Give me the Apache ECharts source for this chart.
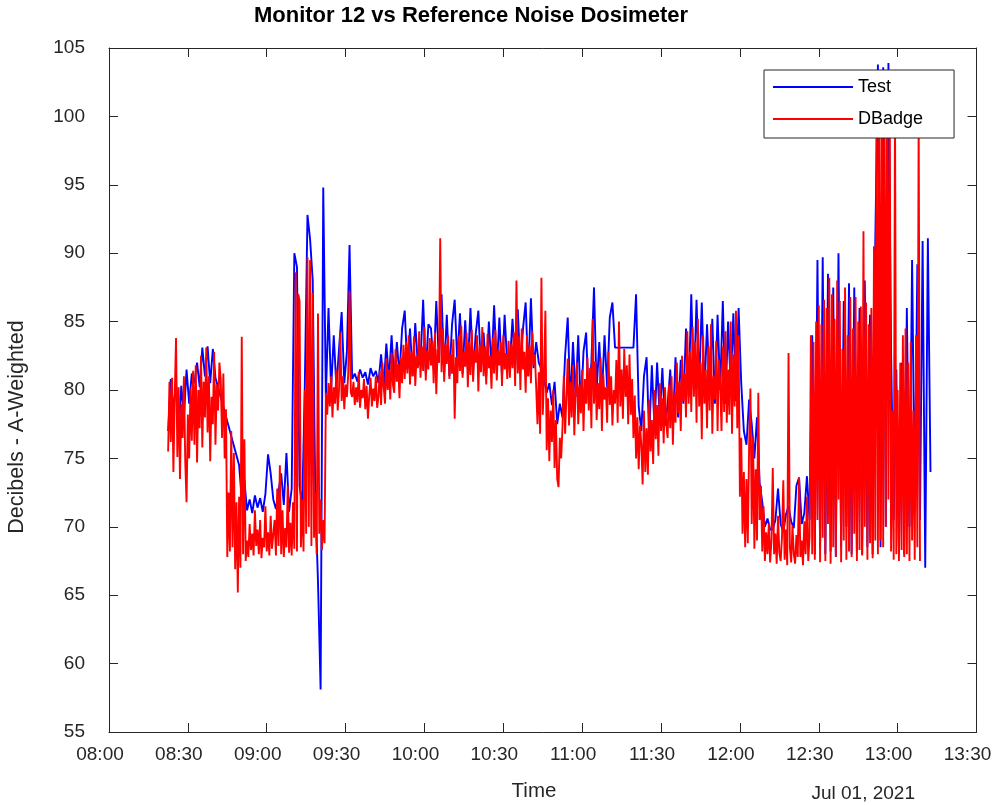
<!DOCTYPE html>
<html>
<head>
<meta charset="utf-8">
<script src="https://cdn.jsdelivr.net/npm/echarts@6/dist/echarts.min.js"></script>
<style>
html,body{margin:0;padding:0;background:#fff;}
#chart{width:995px;height:805px;}
</style>
</head>
<body>
<div id="chart"></div>
<script>
// ---------------- data ----------------
const chartTitle = 'Monitor 12 vs Reference Noise Dosimeter';
const yAxisTitle = 'Decibels - A-Weighted';
const xAxisTitle = 'Time';
const dateLabel = 'Jul 01, 2021';
const seriesNames = ['Test', 'DBadge'];
const xTickLabels = ['08:00','08:30','09:00','09:30','10:00','10:30','11:00','11:30','12:00','12:30','13:00','13:30'];
const yTickLabels = ['55','60','65','70','75','80','85','90','95','100','105'];

// Test monitor: one sample per minute starting 08:22:30 (null = missing sample)
const testStart = '08:22:30';
const testStepSeconds = 60;
const testValues = [
  77.0, 80.8, 78.5, 80.5, 77.0, 80.3, 78.0, 81.5, 79.0, 81.2,
  80.5, 82.0, 80.2, 83.1, 81.0, 83.2, 80.5, 83.0, 80.9, null,
  null, null, null, null, null, null, null, 74.5, 72.0, 73.4,
  71.2, 72.0, 71.0, 72.3, 71.4, 72.1, 71.1, 72.4, 75.3, 73.9,
  72.0, 71.3, 72.6, 73.9, 71.6, 75.4, 71.1, 72.8, 90.0, 89.0,
  73.0, 71.5, 80.5, 92.8, 91.0, 88.0, 72.0, 66.0, 58.1, 94.8,
  79.5, 86.0, 80.0, 84.0, 80.2, 83.0, 85.7, 80.5, 82.8, 90.6,
  80.8, 81.2, 80.6, 81.5, 80.9, 81.3, 80.4, 81.6, 81.0, 81.4,
  80.5, 82.6, 80.2, 83.4, 80.8, 84.0, 80.6, 83.5, 81.0, 84.5,
  85.8, 81.5, 84.5, 81.0, 84.9, 81.8, 82.0, 86.6, 81.2, 84.8,
  84.5, 81.5, 86.5, 82.0, 87.0, 81.2, 85.5, 81.0, 84.8, 86.6,
  82.0, 85.6, 81.2, 85.1, 81.5, 86.0, 81.4, 84.1, 85.8, 81.6,
  84.2, 81.0, 85.0, 81.6, 86.2, 81.4, 85.3, 81.0, 85.5, 81.8,
  82.0, 85.2, 81.5, 85.9, 81.4, 84.5, 86.4, 81.0, 86.7, 81.6,
  83.5, 82.0, 81.5, 80.8, 79.8, 80.5, 78.9, 80.6, 77.5, 79.0,
  78.0, 82.5, 85.3, 79.0, 83.5, 79.5, 84.0, 78.5, 82.8, 84.2,
  79.0, 82.0, 87.5, 80.0, 83.5, 79.5, 84.0, 80.2, 85.3, 86.4,
  83.1, null, null, null, null, null, null, 83.1, 87.0, 78.8,
  77.0, 81.0, 82.4, 76.5, 81.8, 77.2, 82.0, 78.0, 81.6, 77.4,
  78.9, 81.5, 77.2, 82.4, 78.0, 82.2, 79.0, 84.5, 79.5, 87.0,
  80.0, 86.6, 80.4, 86.4, 79.8, 84.8, 80.2, 85.2, 79.0, 85.5,
  80.0, 86.5, 79.0, 85.0, 80.2, 85.6, 79.2, 86.0, 80.5, 77.0,
  76.0, 79.3, 77.5, 75.0, 78.0, 73.2, 71.8, 70.0, 70.6, 69.8,
  69.8, 70.5, 72.8, 70.2, 69.6, 70.9, 71.5, 70.4, 69.9, 73.0,
  73.6, 70.2, 71.0, 73.7, 70.5, 84.0, 68.0, 89.5, 68.5, 89.7,
  68.0, 88.5, 68.2, 87.5, 67.8, 90.0, 68.5, 86.5, 70.0, 87.8,
  68.0, 87.5, 68.2, 86.0, 68.0, 88.0, 68.5, 85.5, 68.0, 90.8,
  103.8, 68.5, 103.6, 70.0, 103.9, 82.9, 70.5, 81.5, 68.0, 82.0,
  68.0, 86.0, 70.0, 89.5, 72.0, 89.2, 70.5, 90.9, 67.0, 91.1, 74.0
];

// DBadge reference dosimeter: one sample every 30 s starting 08:22:30
const dbadgeStart = '08:22:30';
const dbadgeStepSeconds = 30;
const dbadgeValues = [
  75.5, 80.6, 76.2, 80.9, 74.0, 79.5, 83.8, 75.1, 80.2, 73.5, 79.0, 76.5, 81.0, 74.8, 71.8, 78.2, 75.0, 80.1, 76.3, 81.4,
  76.0, 81.8, 74.7, 80.0, 77.2, 82.5, 75.8, 80.6, 78.0, 83.1, 76.9, 81.0, 74.8, 79.5, 77.5, 82.8, 76.0, 80.4, 78.5, 82.0,
  80.8, 76.5, 81.2, 75.0, 78.6, 67.8, 72.5, 68.2, 77.0, 68.5, 75.4, 66.9, 71.8, 65.2, 72.2, 67.0, 83.9, 68.0, 76.4, 67.5,
  69.0, 67.8, 70.2, 68.3, 69.5, 67.9, 71.2, 68.6, 69.8, 68.0, 70.5, 67.7, 69.2, 68.5, 71.5, 68.2, 69.6, 67.9, 70.8, 68.4,
  68.3, 70.5, 67.9, 72.8, 68.6, 74.5, 68.0, 71.2, 67.8, 69.9, 68.5, 73.0, 68.1, 70.3, 67.9, 71.8, 68.4, 88.6, 68.2, 87.0,
  86.5, 68.5, 72.0, 68.2, 80.0, 69.5, 89.7, 70.0, 89.5, 68.6, 87.1, 69.2, 72.5, 68.0, 85.6, 69.5, 72.0, 68.3, 70.5, 68.8,
  79.8, 78.2, 80.5, 78.8, 81.0, 78.0, 80.2, 79.0, 81.5, 78.5, 80.0, 84.2, 79.2, 81.0, 78.6, 80.4, 79.5, 81.2, 87.2, 79.8,
  79.5, 80.6, 78.9, 80.2, 79.1, 81.3, 78.7, 80.0, 79.4, 80.8, 78.6, 80.3, 77.9, 79.6, 80.9, 78.8, 80.1, 79.2, 81.0, 78.7,
  79.5, 81.4, 78.9, 82.0, 80.2, 79.0, 82.3, 80.0, 81.5, 79.3, 82.7, 80.4, 79.8, 83.0, 80.6, 81.9, 79.4, 82.4, 80.5, 83.3,
  80.8, 83.5, 81.2, 84.0, 80.4, 82.8, 81.0, 83.9, 80.3, 82.5, 81.6, 84.3, 80.9, 83.2, 81.4, 84.6, 80.7, 82.9, 81.5, 83.8,
  81.8, 83.6, 80.5, 84.2, 79.7, 83.0, 82.0, 91.1, 81.3, 84.5, 80.6, 83.4, 81.9, 84.0, 80.8, 82.6, 81.2, 83.7, 77.9, 82.4,
  80.5, 83.9, 81.4, 84.7, 80.9, 82.8, 81.7, 84.2, 80.2, 83.5, 81.1, 84.4, 80.6, 82.9, 82.0, 84.0, 79.9, 83.3, 81.3, 84.6,
  81.0, 83.2, 80.4, 84.1, 81.6, 82.5, 80.1, 83.8, 81.2, 84.4, 80.7, 82.9, 81.8, 83.5, 80.3, 84.0, 81.5, 82.7, 80.8, 83.6,
  80.9, 83.4, 81.6, 84.2, 80.3, 88.0, 81.2, 83.9, 80.0, 84.5, 81.5, 82.8, 79.8, 84.0, 81.0, 83.3, 80.5, 84.3, 81.8, 82.6,
  80.2, 77.5, 81.3, 76.8, 88.2, 78.2, 81.0, 85.8, 75.6, 79.4, 74.8, 78.5, 76.2, 80.0, 74.3, 77.8, 73.5, 72.9, 76.5, 75.0,
  77.2, 81.0, 76.8, 79.5, 82.3, 77.4, 80.6, 78.0, 81.8, 76.7, 79.9, 82.0, 77.5, 80.4, 78.3, 81.5, 77.0, 80.8, 79.0, 82.4,
  78.5, 81.6, 77.2, 85.2, 79.0, 82.1, 77.8, 80.5, 78.6, 82.4, 77.0, 81.2, 79.3, 80.2, 77.6, 82.8, 78.9, 81.0, 77.4, 80.0,
  79.0, 82.2, 77.6, 85.0, 78.8, 81.5, 77.9, 83.0, 79.5, 81.8, 77.5, 82.6, 78.2, 80.8, 76.5, 79.6, 75.0, 78.0, 74.2, 77.4,
  76.0, 73.1, 78.5, 74.0, 77.2, 73.8, 79.3, 75.5, 77.8, 74.6, 80.0, 76.4, 78.9, 75.2, 80.5, 77.0, 79.4, 76.1, 80.2, 77.5,
  76.5, 80.4, 77.2, 81.0, 76.0, 79.8, 77.6, 82.0, 78.3, 80.6, 77.0, 82.5, 79.2, 81.2, 78.0, 84.3, 79.0, 82.8, 78.4, 84.6,
  79.5, 83.5, 77.6, 85.2, 78.8, 82.0, 76.4, 84.0, 79.0, 81.5, 77.2, 83.2, 78.5, 84.8, 76.8, 81.0, 79.3, 83.6, 77.0, 82.2,
  80.5, 77.0, 83.2, 78.4, 84.3, 77.6, 81.5, 78.2, 85.0, 76.8, 82.6, 78.8, 85.8, 77.2, 84.0, 72.2, 76.5, 69.5, 74.0, 68.5,
  73.5, 68.8, 75.8, 80.1, 70.2, 76.6, 68.4, 74.2, 69.0, 79.8, 70.5, 73.0, 68.2, 71.5, 67.5, 69.6, 68.0, 70.2, 67.4, 69.0,
  74.3, 68.0, 69.5, 67.3, 70.8, 68.1, 67.5, 69.2, 73.4, 67.6, 69.8, 67.2, 82.7, 68.5, 67.4, 70.1, 68.0, 67.3, 69.4, 67.8,
  73.6, 67.8, 69.0, 67.2, 70.4, 68.0, 72.2, 67.5, 69.3, 84.0, 68.0, 83.5, 67.6, 85.0, 70.5, 86.2, 67.4, 84.8, 69.2, 86.6,
  67.5, 86.0, 70.2, 88.2, 67.3, 87.0, 68.5, 85.2, 67.8, 88.0, 72.0, 86.5, 67.4, 83.0, 69.0, 87.5, 67.6, 84.0, 68.2, 86.8,
  67.8, 84.5, 69.5, 86.8, 67.5, 85.0, 68.3, 86.1, 67.9, 91.6, 70.0, 86.4, 67.6, 84.8, 68.8, 86.0, 67.7, 90.5, 69.0, 101.0,
  68.0, 103.0, 69.0, 102.5, 68.5, 103.2, 70.0, 102.0, 72.0, 101.5, 68.2, 78.5, 67.6, 101.0, 68.0, 80.0, 67.5, 82.0, 68.3, 84.0,
  67.8, 84.5, 68.0, 82.0, 67.5, 83.5, 69.0, 78.5, 67.6, 84.0, 68.5, 100.0, 67.5
];

// ---------------- helpers ----------------
function clockToMinutes(s) {
  const p = s.split(':').map(Number);
  return p[0] * 60 + p[1] + (p[2] || 0) / 60;
}
function toPairs(startClock, stepSeconds, values) {
  const t0 = clockToMinutes(startClock);
  return values.map((v, i) => [t0 + i * stepSeconds / 60, v]);
}
const xMin = clockToMinutes(xTickLabels[0]);
const xMax = clockToMinutes(xTickLabels[xTickLabels.length - 1]);
const yMin = Number(yTickLabels[0]);
const yMax = Number(yTickLabels[yTickLabels.length - 1]);

const FONT = '"Liberation Sans", Arial, Helvetica, sans-serif';
const AX = '#262626';

const chart = echarts.init(document.getElementById('chart'), null, {renderer: 'canvas'});

const axisCommon = {
  axisLine: {show: true, onZero: false, lineStyle: {color: AX, width: 1}},
  axisTick: {show: true, inside: true, length: 9, lineStyle: {color: AX, width: 1}},
  splitLine: {show: false}
};

const option = {
  animation: false,
  backgroundColor: '#ffffff',
  title: {
    text: chartTitle,
    left: 471,
    textAlign: 'center',
    top: 5,
    padding: 0,
    textStyle: {fontFamily: FONT, fontSize: 22, fontWeight: 'bold', color: '#000'}
  },
  grid: {left: 109, right: 18.5, top: 48, bottom: 73, containLabel: false},
  legend: {
    data: seriesNames,
    orient: 'vertical',
    left: 764,
    top: 70,
    width: 190,
    padding: [8, 31, 10, 9],
    itemGap: 14,
    itemWidth: 80,
    itemHeight: 2,
    icon: 'rect',
    backgroundColor: '#ffffff',
    borderColor: AX,
    borderWidth: 1,
    borderRadius: 0,
    textStyle: {fontFamily: FONT, fontSize: 18, color: '#000'}
  },
  xAxis: [
    Object.assign({}, axisCommon, {
      type: 'value', min: xMin, max: xMax, interval: 30, position: 'bottom',
      axisLabel: {
        show: true, fontFamily: FONT, fontSize: 19, color: AX, margin: 13,
        padding: [0, 18, 0, 0],
        formatter: v => xTickLabels[Math.round((v - xMin) / 30)] || ''
      }
    }),
    Object.assign({}, axisCommon, {
      type: 'value', min: xMin, max: xMax, interval: 30, position: 'top',
      axisLabel: {show: false}
    })
  ],
  yAxis: [
    Object.assign({}, axisCommon, {
      type: 'value', min: yMin, max: yMax, interval: 5, position: 'left',
      axisLabel: {
        show: true, fontFamily: FONT, fontSize: 19, color: AX, margin: 24,
        padding: [0, 0, 8, 0],
        formatter: v => yTickLabels[Math.round((v - yMin) / 5)] || ''
      }
    }),
    Object.assign({}, axisCommon, {
      type: 'value', min: yMin, max: yMax, interval: 5, position: 'right',
      axisLabel: {show: false}
    })
  ],
  series: [
    {
      name: seriesNames[0], type: 'line', xAxisIndex: 0, yAxisIndex: 0,
      data: toPairs(testStart, testStepSeconds, testValues),
      symbol: 'none', showSymbol: false, connectNulls: true, z: 2,
      lineStyle: {color: '#0000ff', width: 1.9},
      itemStyle: {color: '#0000ff'}
    },
    {
      name: seriesNames[1], type: 'line', xAxisIndex: 0, yAxisIndex: 0,
      data: toPairs(dbadgeStart, dbadgeStepSeconds, dbadgeValues),
      symbol: 'none', showSymbol: false, connectNulls: true, z: 3,
      lineStyle: {color: '#ff0000', width: 1.9},
      itemStyle: {color: '#ff0000'}
    }
  ],
  graphic: [
    {
      type: 'text', x: 17.5, y: 427, rotation: Math.PI / 2,
      style: {text: yAxisTitle, font: '21.5px ' + FONT, fill: AX, textAlign: 'center', textVerticalAlign: 'middle'}
    },
    {
      type: 'text', x: 534, y: 791,
      style: {text: xAxisTitle, font: '20.5px ' + FONT, fill: AX, textAlign: 'center', textVerticalAlign: 'middle'}
    },
    {
      type: 'text', x: 915, y: 794,
      style: {text: dateLabel, font: '19px ' + FONT, fill: AX, textAlign: 'right', textVerticalAlign: 'middle'}
    }
  ]
};
chart.setOption(option);
</script>
</body>
</html>
